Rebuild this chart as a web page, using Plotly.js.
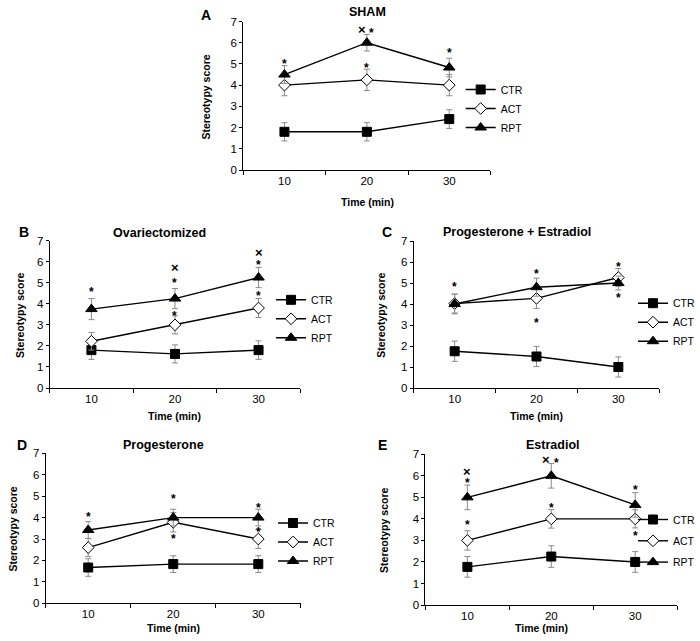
<!DOCTYPE html>
<html><head><meta charset="utf-8">
<script src="https://cdn.plot.ly/plotly-3.0.1.min.js"></script>
<style>html,body{margin:0;padding:0;background:#fff}#chart{width:700px;height:641px}</style>
</head><body><div id="chart"></div>
<script>
// ---------- data ----------
const times = [10, 20, 30];
const seriesNames = ['CTR', 'ACT', 'RPT'];
const panelLetters = ['A', 'B', 'C', 'D', 'E'];
const panelTitles = ['SHAM', 'Ovariectomized', 'Progesterone + Estradiol', 'Progesterone', 'Estradiol'];
const xTitle = 'Time (min)';
const yTitle = 'Stereotypy score';

// SHAM
const shamCTR = [1.8, 1.8, 2.4],   shamCTRerr = [0.43, 0.43, 0.44];
const shamACT = [4.0, 4.25, 4.0],  shamACTerr = [0.5, 0.5, 0.5];
const shamRPT = [4.5, 6.0, 4.83],  shamRPTerr = [0.42, 0.39, 0.44];
// Ovariectomized
const ovxCTR = [1.8, 1.62, 1.8],   ovxCTRerr = [0.44, 0.43, 0.44];
const ovxACT = [2.22, 3.0, 3.8],   ovxACTerr = [0.42, 0.43, 0.45];
const ovxRPT = [3.75, 4.25, 5.25], ovxRPTerr = [0.5, 0.48, 0.48];
// Progesterone + Estradiol
const peCTR = [1.75, 1.5, 1.0],    peCTRerr = [0.48, 0.48, 0.48];
const peACT = [4.02, 4.27, 5.26],  peACTerr = [0.45, 0.48, 0.43];
const peRPT = [4.0, 4.8, 5.0],     peRPTerr = [0.47, 0.43, 0.33];
// Progesterone
const pCTR = [1.67, 1.83, 1.83],   pCTRerr = [0.41, 0.39, 0.39];
const pACT = [2.6, 3.78, 3.0],     pACTerr = [0.42, 0.45, 0.44];
const pRPT = [3.42, 4.0, 4.0],     pRPTerr = [0.39, 0.39, 0.39];
// Estradiol
const eCTR = [1.77, 2.25, 2.0],    eCTRerr = [0.48, 0.5, 0.48];
const eACT = [3.0, 4.0, 4.0],      eACTerr = [0.45, 0.43, 0.42];
const eRPT = [5.0, 6.0, 4.65],     eRPTerr = [0.57, 0.57, 0.57];

// significance marks per panel: [time, score, symbol]
const shamMarks = [[10, 5.13, '*'], [20, 6.62, '×*'], [30, 5.64, '*'], [20, 4.97, '*']];
const ovxMarks  = [[10, 4.69, '*'], [20, 5.13, '*'], [20, 5.73, '×'], [20, 3.58, '*'], [30, 6.0, '*'], [30, 6.45, '×'], [30, 4.5, '*']];
const peMarks   = [[10, 4.95, '*'], [20, 5.57, '*'], [20, 3.25, '*'], [30, 5.9, '*'], [30, 4.45, '*']];
const pMarks    = [[10, 4.15, '*'], [20, 5.0, '*'], [20, 3.13, '*'], [30, 4.6, '*'], [30, 3.47, '*']];
const eMarks    = [[10, 3.84, '*'], [10, 5.8, '*'], [10, 6.22, '×'], [20, 4.65, '*'], [20, 6.74, '×*'], [30, 5.5, '*'], [30, 3.33, '*']];

const panelData = [
  [[shamCTR, shamCTRerr], [shamACT, shamACTerr], [shamRPT, shamRPTerr]],
  [[ovxCTR, ovxCTRerr], [ovxACT, ovxACTerr], [ovxRPT, ovxRPTerr]],
  [[peCTR, peCTRerr], [peACT, peACTerr], [peRPT, peRPTerr]],
  [[pCTR, pCTRerr], [pACT, pACTerr], [pRPT, pRPTerr]],
  [[eCTR, eCTRerr], [eACT, eACTerr], [eRPT, eRPTerr]]
];
const panelMarks = [shamMarks, ovxMarks, peMarks, pMarks, eMarks];

// ---------- layout geometry (pixels) ----------
const W = 700, H = 641;
const boxes = [
  {l: 245, r: 494, t: 21.5, b: 170},
  {l: 50, r: 302.5, t: 240.7, b: 388},
  {l: 416.7, r: 664, t: 241, b: 388},
  {l: 46, r: 303, t: 453.3, b: 603.3},
  {l: 428.5, r: 682, t: 454.3, b: 605}
];
// legend box left edge and first item centre
const legendPos = [
  {x: 464, y: 89, gap: 0}, {x: 273, y: 299.3, gap: 0}, {x: 638, y: 302.7, gap: 0},
  {x: 275, y: 522.5, gap: 0}, {x: 638, y: 519, gap: 2.3}
];
const yTitlePos = [207.3, 20.7, 384, 13.3, 386];
const titlePos = [[370, 12], [161, 233], [521, 232], [165, 445], [556.7, 445]];
const letterPos = [[207, 15], [24, 232], [390, 232], [21.7, 445], [385, 445]];
const xTitlePos = [[370, 202], [176, 416], [540, 416], [175, 628], [545, 628]];

const FONT = 'Liberation Sans, Arial, sans-serif';
const styles = [
  {symbol: 'square', size: 9, color: '#000', lc: '#000'},
  {symbol: 'diamond', size: 9, color: '#fff', lc: '#000'},
  {symbol: 'triangle-up', size: 10, color: '#000', lc: '#000'}
];

const traces = [];
const layout = {
  width: W, height: H, margin: {l: 0, r: 0, t: 0, b: 0},
  paper_bgcolor: '#fff', plot_bgcolor: 'rgba(0,0,0,0)',
  font: {family: FONT, color: '#000', size: 11},
  annotations: [], showlegend: true
};

panelData.forEach((series, p) => {
  const sfx = p === 0 ? '' : String(p + 1);
  const bx = boxes[p];
  const legName = 'legend' + sfx;
  series.forEach((s, k) => {
    traces.push({
      type: 'scatter', mode: 'lines+markers', name: seriesNames[k],
      x: times, y: s[0], xaxis: 'x' + sfx, yaxis: 'y' + sfx, legend: legName,
      legendgroup: 'g' + p + '_' + k,
      line: {color: '#000', width: 1.4},
      marker: {symbol: styles[k].symbol, size: styles[k].size, color: styles[k].color,
               line: {color: styles[k].lc, width: 1}},
      error_y: {type: 'data', array: s[1], visible: true, color: '#8a8a8a', thickness: 1, width: 3},
      hoverinfo: 'skip'
    });
  });
  layout['xaxis' + sfx] = {
    domain: [bx.l / W, bx.r / W], anchor: 'y' + sfx, range: [5, 35],
    tickmode: 'array', tickvals: times, ticktext: times.map(String), ticks: '',
    minor: {tickmode: 'array', tickvals: [5, 15, 25, 35], ticks: 'outside', ticklen: 4, tickcolor: '#000', tickwidth: 1},
    showline: true, linecolor: '#000', linewidth: 1, showgrid: false, zeroline: false,
    tickfont: {size: 11.5, family: FONT}, fixedrange: true
  };
  layout['yaxis' + sfx] = {
    domain: [1 - bx.b / H, 1 - bx.t / H], anchor: 'x' + sfx, range: [0, 7],
    tickmode: 'linear', tick0: 0, dtick: 1, ticks: 'outside', ticklen: 3, tickcolor: '#000',
    showline: true, linecolor: '#000', linewidth: 1, showgrid: false, zeroline: false,
    tickfont: {size: 11.5, family: FONT}, fixedrange: true
  };
  const lp = legendPos[p];
  layout[legName] = {
    x: lp.x / W, y: 1 - (lp.y - 14) / H, xanchor: 'left', yanchor: 'top',
    bgcolor: 'rgba(0,0,0,0)', borderwidth: 0, itemwidth: 30,
    font: {size: 10.5, family: FONT}, tracegroupgap: lp.gap
  };
  layout.annotations.push(
    {text: '<b>' + panelTitles[p] + '</b>', xref: 'paper', yref: 'paper', x: titlePos[p][0] / W, y: 1 - titlePos[p][1] / H,
     xanchor: 'center', yanchor: 'middle', showarrow: false, font: {size: 12.5, family: FONT}},
    {text: '<b>' + panelLetters[p] + '</b>', xref: 'paper', yref: 'paper', x: letterPos[p][0] / W, y: 1 - letterPos[p][1] / H,
     xanchor: 'center', yanchor: 'middle', showarrow: false, font: {size: 14, family: FONT}},
    {text: '<b>' + xTitle + '</b>', xref: 'paper', yref: 'paper', x: xTitlePos[p][0] / W, y: 1 - xTitlePos[p][1] / H,
     xanchor: 'center', yanchor: 'middle', showarrow: false, font: {size: 10.5, family: FONT}},
    {text: '<b>' + yTitle + '</b>', xref: 'paper', yref: 'paper', x: yTitlePos[p] / W, y: 1 - ((bx.t + bx.b) / 2 + 1) / H,
     xanchor: 'center', yanchor: 'middle', textangle: -90, showarrow: false, font: {size: 10.5, family: FONT}}
  );
  panelMarks[p].forEach(m => {
    const parts = m[2] === '×*' ? [['×', -5], ['*', 5]] : [[m[2], 0]];
    parts.forEach(pt => {
      const isStar = pt[0] === '*';
      layout.annotations.push({
        text: '<b>' + pt[0] + '</b>', xref: 'x' + sfx, yref: 'y' + sfx, x: m[0], y: m[1],
        xshift: pt[1], yshift: isStar ? -3 : 0, showarrow: false, xanchor: 'center', yanchor: 'middle',
        font: {size: isStar ? 12 : 13, family: FONT}
      });
    });
  });
});

Plotly.newPlot('chart', traces, layout, {displayModeBar: false, staticPlot: true});
</script>
</body></html>
